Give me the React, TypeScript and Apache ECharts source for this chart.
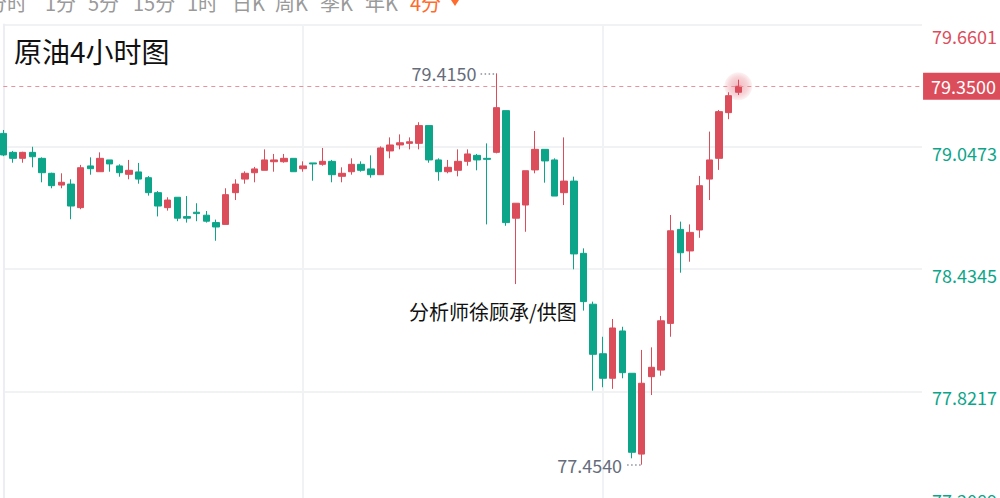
import React, { useEffect, useRef } from "react";
import * as echarts from "echarts";

const opens = [79.114, 79.019, 78.989, 79.019, 78.989, 78.914, 78.855, 78.860, 78.742, 78.951, 78.922, 78.981, 78.951, 78.909, 78.921, 78.892, 78.817, 78.742, 78.794, 78.697, 78.719, 78.704, 78.667, 78.658, 78.817, 78.885, 78.917, 78.929, 78.972, 78.972, 78.989, 78.937, 78.966, 78.959, 78.974, 78.899, 78.922, 78.959, 78.936, 78.907, 79.026, 79.056, 79.064, 79.064, 79.153, 78.981, 78.922, 78.929, 78.974, 79.004, 78.989, 79.019, 79.228, 78.689, 78.755, 78.931, 79.034, 78.981, 78.817, 78.875, 78.513, 78.258, 78.010, 77.887, 78.124, 77.912, 77.507, 77.895, 77.928, 78.162, 78.633, 78.525, 78.630, 78.885, 78.989, 79.218, 79.320];
const closes = [79.006, 78.989, 79.019, 78.997, 78.917, 78.852, 78.869, 78.750, 78.942, 78.937, 78.989, 78.961, 78.917, 78.929, 78.885, 78.817, 78.750, 78.780, 78.689, 78.689, 78.712, 78.674, 78.645, 78.807, 78.860, 78.914, 78.936, 78.981, 78.981, 78.989, 78.922, 78.951, 78.961, 78.974, 78.907, 78.914, 78.959, 78.929, 78.907, 79.041, 79.056, 79.067, 79.072, 79.153, 78.981, 78.922, 78.944, 78.974, 79.011, 78.981, 78.984, 79.243, 78.667, 78.764, 78.927, 79.034, 78.976, 78.800, 78.875, 78.510, 78.271, 78.007, 77.887, 78.139, 77.915, 77.516, 77.862, 77.942, 78.175, 78.626, 78.516, 78.618, 78.852, 78.981, 79.223, 79.303, 79.350];
const lows = [79.000, 78.967, 78.967, 78.944, 78.869, 78.839, 78.839, 78.684, 78.734, 78.907, 78.922, 78.922, 78.897, 78.884, 78.862, 78.802, 78.698, 78.727, 78.674, 78.667, 78.674, 78.667, 78.576, 78.658, 78.780, 78.862, 78.869, 78.929, 78.922, 78.967, 78.922, 78.922, 78.877, 78.952, 78.869, 78.869, 78.907, 78.922, 78.892, 78.907, 78.989, 79.034, 79.034, 79.034, 78.967, 78.877, 78.914, 78.899, 78.952, 78.929, 78.658, 79.014, 78.651, 78.359, 78.621, 78.914, 78.867, 78.800, 78.755, 78.433, 78.226, 77.825, 77.842, 77.834, 77.887, 77.486, 77.454, 77.803, 77.900, 78.095, 78.416, 78.471, 78.591, 78.780, 78.931, 79.185, 79.306];
const highs = [79.131, 79.026, 79.022, 79.047, 78.994, 78.917, 78.914, 78.884, 78.956, 78.994, 79.019, 78.981, 78.959, 78.981, 78.966, 78.900, 78.825, 78.794, 78.794, 78.800, 78.764, 78.725, 78.682, 78.839, 78.884, 78.924, 78.946, 79.034, 79.011, 79.011, 78.989, 78.974, 78.966, 79.041, 78.981, 78.944, 78.989, 78.974, 79.004, 79.049, 79.094, 79.109, 79.094, 79.170, 79.153, 78.989, 78.981, 79.034, 79.034, 79.011, 79.064, 79.415, 79.228, 78.764, 78.927, 79.126, 79.034, 78.989, 79.094, 78.897, 78.538, 78.271, 78.095, 78.184, 78.145, 77.912, 78.029, 78.042, 78.199, 78.705, 78.672, 78.658, 78.901, 79.123, 79.231, 79.320, 79.383];

const slotCount = 96;
const categories = Array.from({ length: slotCount }, (_, i) => "K" + i);
const yTicks = [77.2089, 77.8217, 78.4345, 79.0473, 79.6601];
const tabLabels = ["分时", "1分", "5分", "15分", "1时", "日K", "周K", "季K", "年K"];
const activeTab = "4分";
const titleText = "原油4小时图";
const creditText = "分析师徐顾承/供图";

const RED = "#dc4d5b";
const GREEN = "#0ca58a";
const FONT = '"Noto Sans CJK SC", "Noto Sans", sans-serif';

export default function App() {
  const ref = useRef<HTMLDivElement>(null);
  useEffect(() => {
    if (!ref.current) return;
    document.body.style.margin = "0";
    document.body.style.overflow = "hidden";
    const chart = echarts.init(ref.current, null, { renderer: "svg" });
    const ohlc = opens.map((o, i) => [o, closes[i], lows[i], highs[i]]);
    const maxHigh = Math.max(...highs);
    const maxIdx = highs.indexOf(maxHigh);
    const minLow = Math.min(...lows);
    const minIdx = lows.indexOf(minLow);
    const lastIdx = closes.length - 1;
    const lastClose = closes[lastIdx];
    const vIdx = [0, 31, 62];
    const tabX = [-13, 45, 88, 133, 187, 232, 275, 320, 365];
    const yMin = yTicks[0];
    const yMax = yTicks[yTicks.length - 1];

    const graphics: any[] = tabLabels.map((t, i) => ({
      type: "text",
      x: tabX[i],
      y: -8,
      silent: true,
      style: { text: t, fill: "#9a9a9a", font: `20px ${FONT}`, verticalAlign: "top" },
    }));
    graphics.push({
      type: "text",
      x: 410,
      y: -8,
      silent: true,
      style: { text: activeTab, fill: "#ff6b2c", font: `20px ${FONT}`, verticalAlign: "top" },
    });
    graphics.push({
      type: "polygon",
      silent: true,
      shape: { points: [[449, -3], [461, -3], [455, 6]] },
      style: { fill: "#ff6b2c" },
    });
    graphics.push({
      type: "text",
      x: 14,
      y: 37,
      silent: true,
      style: { text: titleText, fill: "#111", font: `28px ${FONT}`, verticalAlign: "top" },
    });
    graphics.push({
      type: "text",
      x: 409,
      y: 301,
      silent: true,
      z: 10,
      style: { text: creditText, fill: "#111", font: `20px ${FONT}`, verticalAlign: "top" },
    });

    const annoLabel = {
      show: true,
      position: "end",
      distance: 4,
      color: "#666c7b",
      fontSize: 18,
      fontFamily: FONT,
      padding: [10, 0, 0, 0],
      formatter: (p: any) => Number(p.value).toFixed(4),
    };

    const near = (a: number, b: number) => Math.abs(a - b) < 1e-6;

    chart.setOption({
      animation: false,
      grid: { left: 3.3, top: 24.4, width: 919.7, height: 489.2 },
      graphic: graphics,
      xAxis: [
        {
          type: "category",
          data: categories,
          boundaryGap: false,
          axisLine: { show: false },
          axisTick: { show: false },
          axisLabel: { show: false },
          splitLine: {
            show: true,
            interval: (i: number) => vIdx.indexOf(i) >= 0,
            lineStyle: { color: "#f1f2f4", width: 2 },
          },
        },
        { type: "value", min: 0, max: slotCount - 1, show: false },
      ],
      yAxis: {
        type: "value",
        position: "right",
        min: yMin,
        max: yMax,
        interval: yTicks[1] - yTicks[0],
        axisLine: { show: true, lineStyle: { color: "#eceef3", width: 2 } },
        axisTick: { show: false },
        splitLine: { show: true, lineStyle: { color: "#f1f2f4", width: 2 } },
        axisLabel: {
          margin: 10,
          fontSize: 18,
          fontFamily: FONT,
          verticalAlign: "middle",
          verticalAlignMaxLabel: "top",
          verticalAlignMinLabel: "bottom",
          formatter: (v: number) => {
            const n = Number(v);
            const s = n.toFixed(4);
            if (near(n, yMax)) return `{t|${s}}`;
            if (near(n, yMin)) return `{b|${s}}`;
            return `{m|${s}}`;
          },
          rich: {
            t: { padding: [3, 0, 0, 0], fontSize: 18, fontFamily: FONT },
            m: { padding: [12, 0, 0, 0], fontSize: 18, fontFamily: FONT },
            b: { padding: [0, 0, 5, 0], fontSize: 18, fontFamily: FONT },
          },
          color: (v: any) => (Number(v) > lastClose ? RED : GREEN),
        },
      },
      series: [
        {
          type: "candlestick",
          data: ohlc,
          barWidth: 7,
          clip: false,
          z: 3,
          itemStyle: { color: RED, color0: GREEN, borderColor: RED, borderColor0: GREEN, borderWidth: 1 },
          markLine: {
            silent: true,
            symbol: ["none", "none"],
            lineStyle: { color: "#e8939c", type: [4, 4], width: 1 },
            label: {
              show: true,
              position: "end",
              distance: 1,
              color: "#fff",
              backgroundColor: RED,
              fontSize: 18,
              fontFamily: FONT,
              lineHeight: 19,
              padding: [4, 4, 4, 8],
              formatter: () => lastClose.toFixed(4),
            },
            data: [{ yAxis: lastClose }],
          },
        },
        {
          type: "scatter",
          xAxisIndex: 1,
          z: 1,
          symbolSize: 28,
          silent: true,
          data: [[lastIdx, lastClose]],
          itemStyle: {
            color: new echarts.graphic.RadialGradient(0.5, 0.5, 0.5, [
              { offset: 0, color: "rgba(220,77,91,0.5)" },
              { offset: 0.65, color: "rgba(220,77,91,0.3)" },
              { offset: 1, color: "rgba(220,77,91,0.08)" },
            ]),
          },
          markLine: {
            silent: true,
            symbol: ["none", "none"],
            lineStyle: { color: "#8a909e", type: [1.5, 2.5], width: 1.5 },
            label: annoLabel,
            data: [
              [
                { coord: [maxIdx - 0.25, maxHigh], value: maxHigh },
                { coord: [maxIdx - 1.65, maxHigh] },
              ],
              [
                { coord: [minIdx - 0.1, minLow], value: minLow },
                { coord: [minIdx - 1.6, minLow] },
              ],
            ],
          },
        },
      ],
    });
    return () => chart.dispose();
  }, []);
  return (
    <div
      ref={ref}
      style={{ position: "fixed", left: 0, top: 0, width: 1000, height: 514, background: "#fff" }}
    />
  );
}
